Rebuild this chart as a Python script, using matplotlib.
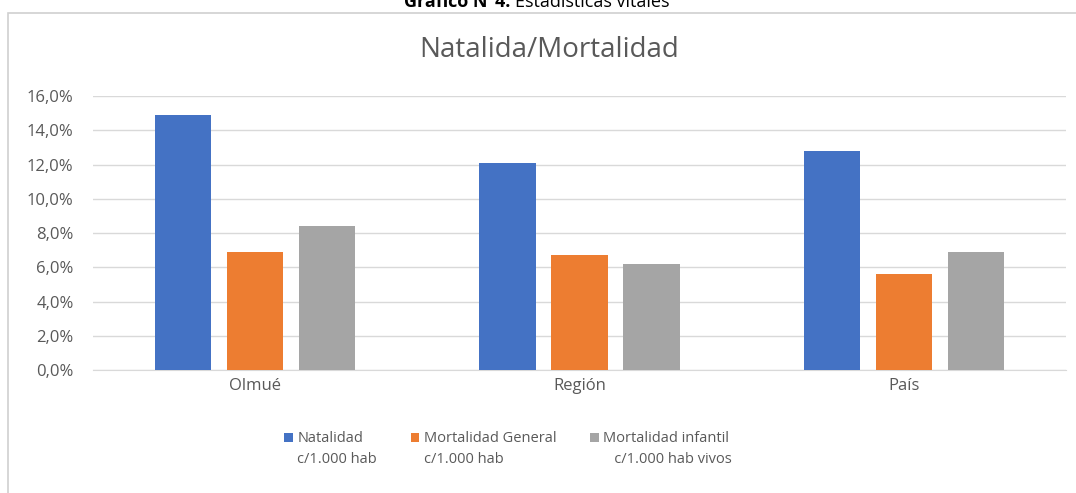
import numpy as np
import matplotlib.pyplot as plt
from matplotlib.ticker import FuncFormatter
from matplotlib.patches import Rectangle

plt.rcParams['font.family'] = ['Open Sans', 'DejaVu Sans']

# Data
categories = ['Olmué', 'Región', 'País']
natalidad = [0.149, 0.121, 0.128]
mort_general = [0.069, 0.067, 0.056]
mort_infantil = [0.084, 0.062, 0.069]
series_labels = ['Natalidad\nc/1.000 hab', 'Mortalidad General\nc/1.000 hab',
                 'Mortalidad infantil\n   c/1.000 hab vivos']
colors = ['#4472C4', '#ED7D31', '#A5A5A5']
text_col = '#595959'

fig = plt.figure(figsize=(10.76, 4.93), dpi=100)
ax = fig.add_axes([0.0864, 0.2495, 0.9043, 0.5555])

x = np.arange(len(categories))
w = 0.173
off = 0.222
for i, vals in enumerate([natalidad, mort_general, mort_infantil]):
    ax.bar(x + (i - 1) * off, vals, w, color=colors[i], label=series_labels[i], zorder=3)

ax.set_xlim(-0.5, 2.5)
ax.set_ylim(0, 0.16)
ax.set_yticks(np.arange(0, 0.161, 0.02))
ax.yaxis.set_major_formatter(FuncFormatter(lambda v, p: f'{v*100:.1f}%'.replace('.', ',')))
ax.set_xticks(x)
ax.set_xticklabels(categories)
ax.tick_params(length=0, labelsize=12, colors=text_col)
ax.tick_params(axis='x', pad=6)
ax.tick_params(axis='y', pad=14)
ax.grid(axis='y', color='#D9D9D9', linewidth=1, zorder=0)
for s in ['top', 'right', 'left']:
    ax.spines[s].set_visible(False)
ax.spines['bottom'].set_color('#D9D9D9')

# chart box border
fig.patches.append(Rectangle((8 / 1076, -0.1), 1.2, 1 - 13 / 493 + 0.1, transform=fig.transFigure,
                             fill=False, edgecolor='#D0D0D0', linewidth=1.2))

fig.text(549 / 1076, 1 - 50 / 493, 'Natalida/Mortalidad', ha='center', va='center',
         fontsize=20, color=text_col)

# cut-off figure caption at the top
fig.text(510 / 1076, 1 - 7 / 493, 'Gráfico N°4:', ha='right', va='baseline',
         fontsize=13, fontweight='bold', color='black')
fig.text(515 / 1076, 1 - 7 / 493, 'Estadísticas vitales', ha='left', va='baseline',
         fontsize=13, color='black')

leg = fig.legend(loc='center', bbox_to_anchor=(508 / 1076, 1 - 449 / 493), ncol=3, frameon=False,
                 fontsize=10.5, handlelength=0.6, handleheight=0.6, handletextpad=0.3,
                 columnspacing=2.3, labelcolor=text_col)
for t in leg.get_texts():
    t.set_multialignment('left')
    t.set_linespacing(1.5)
# put the colour squares next to the first line of each label
for h in leg.legend_handles:
    h.set_y(h.get_y() + 8.5)

fig.savefig('out.png', dpi=100)
